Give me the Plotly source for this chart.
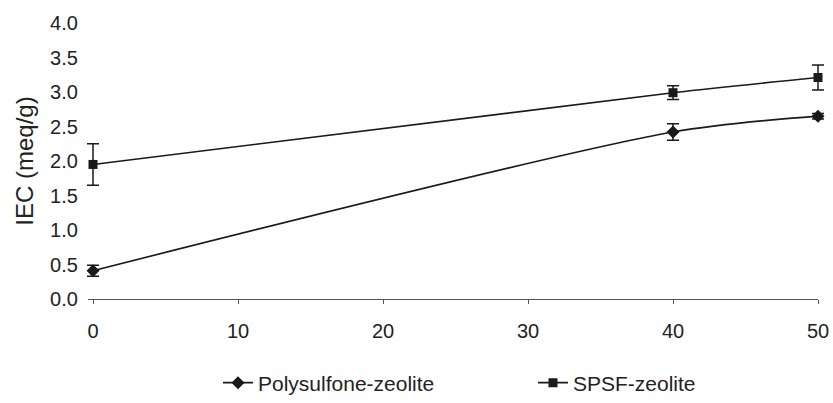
import plotly.graph_objects as go

x_vals = [0, 40, 50]
poly_y = [0.41, 2.42, 2.65]
poly_err = [0.08, 0.12, 0.04]
spsf_y = [1.95, 2.99, 3.21]
spsf_err = [0.30, 0.10, 0.18]

x_ticks = [0, 10, 20, 30, 40, 50]
y_ticks = [0.0, 0.5, 1.0, 1.5, 2.0, 2.5, 3.0, 3.5, 4.0]

FAM = "Liberation Sans, Arial, sans-serif"
fnt = dict(family=FAM, size=20, color="#222")

L, R = 83, 5
PW = 833 - L - R
PAD = 10
dom = [PAD / PW, (PW - PAD) / PW]
upp = 50 / (PW - 2 * PAD)
x2_range = [-PAD * upp, 50 + PAD * upp]

fig = go.Figure()
# invisible anchor trace so the visible axis pair is drawn
fig.add_trace(go.Scatter(
    x=[x_ticks[0]], y=[y_ticks[0]], mode="markers", xaxis="x", yaxis="y",
    marker=dict(opacity=0), showlegend=False, hoverinfo="skip",
))
fig.add_trace(go.Scatter(
    x=x_vals, y=poly_y, name="Polysulfone-zeolite", mode="lines+markers",
    xaxis="x2", yaxis="y", legend="legend",
    line=dict(color="#1a1a1a", width=1.6, shape="spline", smoothing=0.8),
    marker=dict(symbol="diamond", size=10, color="#1a1a1a"),
    error_y=dict(type="data", array=poly_err, color="#1a1a1a", thickness=1.5, width=6),
))
fig.add_trace(go.Scatter(
    x=x_vals, y=spsf_y, name="SPSF-zeolite", mode="lines+markers",
    xaxis="x2", yaxis="y", legend="legend2",
    line=dict(color="#1a1a1a", width=1.6, shape="spline", smoothing=0.8),
    marker=dict(symbol="square", size=9, color="#1a1a1a"),
    error_y=dict(type="data", array=spsf_err, color="#1a1a1a", thickness=1.5, width=6),
))

leg_common = dict(orientation="h", xref="container", yref="container",
                  xanchor="left", y=1 - 383 / 403, yanchor="middle",
                  font=dict(family=FAM, size=21, color="#222"),
                  bgcolor="rgba(0,0,0,0)")

fig.update_layout(
    width=833, height=403,
    margin=dict(l=L, r=R, t=23, b=104, autoexpand=False),
    paper_bgcolor="white", plot_bgcolor="white",
    font=fnt,
    showlegend=True,
    legend=dict(x=218 / 833, **leg_common),
    legend2=dict(x=533 / 833, **leg_common),
    xaxis=dict(domain=dom, range=[0, 50], tickvals=x_ticks,
               ticktext=[str(v) for v in x_ticks], anchor="y", automargin=False,
               showline=True, linecolor="#555", linewidth=1.2, ticks="outside",
               ticklen=4, tickcolor="#555", showgrid=False, zeroline=False,
               tickfont=fnt, ticklabelstandoff=10),
    xaxis2=dict(domain=[0, 1], range=x2_range, anchor="y", visible=False,
                automargin=False, showgrid=False, zeroline=False),
    yaxis=dict(range=[0, 4.0], tickvals=y_ticks, ticktext=[f"{v:.1f}" for v in y_ticks],
               anchor="free", position=dom[0], automargin=False,
               showline=True, linecolor="#555", linewidth=1.2, ticks="outside",
               ticklen=5, tickcolor="#555", showgrid=False, zeroline=False,
               title=dict(text="IEC (meq/g)", font=dict(family=FAM, size=24, color="#222"),
                          standoff=8),
               tickfont=fnt, ticklabelstandoff=6),
)

fig.write_html("out.html")
